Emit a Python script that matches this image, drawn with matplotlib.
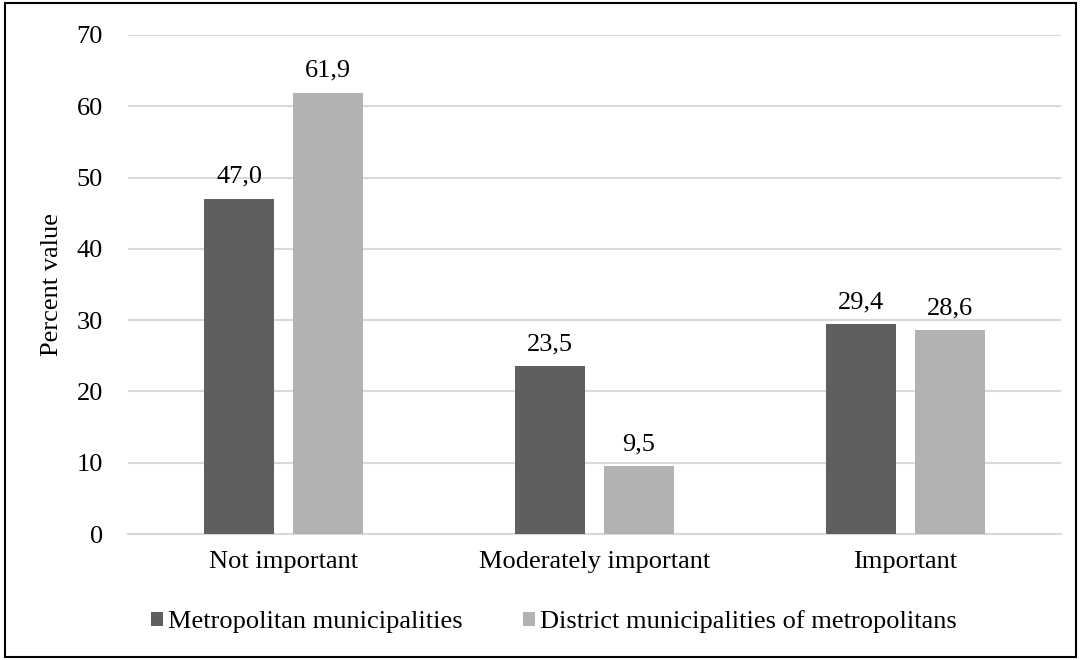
import matplotlib
matplotlib.use("Agg")
import matplotlib.pyplot as plt
from matplotlib.patches import Rectangle
import numpy as np

categories = ["Not important", "Moderately important", "Important"]
series_names = ["Metropolitan municipalities", "District municipalities of metropolitans"]
metropolitan = [47.0, 23.5, 29.4]
district = [61.9, 9.5, 28.6]
colors = ["#5f5f5f", "#b2b2b2"]
y_ticks = [0, 10, 20, 30, 40, 50, 60, 70]

plt.rcParams["font.family"] = ["Liberation Serif", "DejaVu Serif"]
FS = 19

fig = plt.figure(figsize=(10.81, 6.60), dpi=100)
ax = fig.add_axes([0.1184, 0.1909, 0.8631, 0.7561])

x = np.arange(len(categories))
w = 0.225
off = 0.143
for vals, name, col, sign in [(metropolitan, series_names[0], colors[0], -1),
                              (district, series_names[1], colors[1], 1)]:
    bars = ax.bar(x + sign * off, vals, width=w, color=col, label=name, zorder=3)
    for b, v in zip(bars, vals):
        ax.annotate(f"{v:.1f}".replace(".", ","),
                    (b.get_x() + b.get_width() / 2, v),
                    xytext=(0, 16), textcoords="offset pixels",
                    ha="center", va="baseline", fontsize=FS, color="#000000")

ax.set_xlim(-0.5, 2.5)
ax.set_ylim(0, 70)
ax.set_yticks(y_ticks)
ax.set_yticklabels([str(t) for t in y_ticks], fontsize=FS)
ax.set_xticks(x)
ax.set_xticklabels(categories, fontsize=FS)
ax.tick_params(axis="both", length=0)
ax.tick_params(axis="x", pad=12)
ax.tick_params(axis="y", pad=18)
ax.grid(axis="y", color="#d9d9d9", linewidth=1.5, zorder=0)
for s in ["top", "right", "left"]:
    ax.spines[s].set_visible(False)
ax.spines["bottom"].set_color("#d9d9d9")
ax.spines["bottom"].set_linewidth(1.5)
ax.set_ylabel("Percent value", fontsize=FS, labelpad=10)

fig.legend(loc="center", bbox_to_anchor=(0.5125, 0.0576), ncol=2, frameon=False,
           fontsize=FS, handlelength=0.45, handleheight=0.45, handletextpad=0.2,
           columnspacing=2.3, borderpad=0, borderaxespad=0)

fig.patches.append(Rectangle((0.005, 0.005), 0.99, 0.99, transform=fig.transFigure,
                             fill=False, edgecolor="black", linewidth=1.5))

fig.savefig("out.png", dpi=100)
